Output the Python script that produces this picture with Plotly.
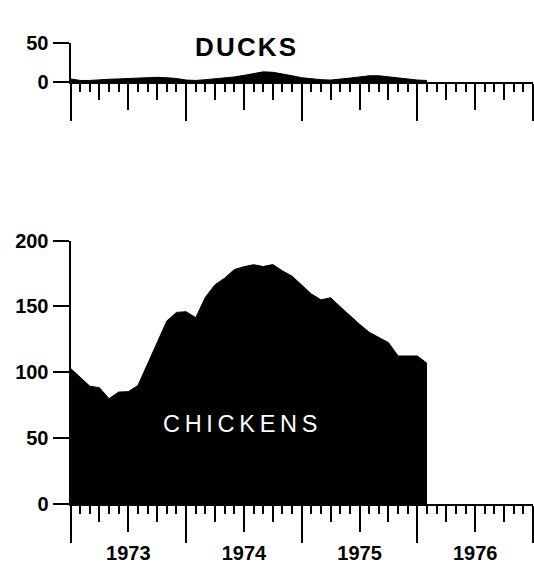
import plotly.graph_objects as go

# months since January 1973
months = list(range(38))
chickens = [103, 96, 89.5, 88.3, 80, 85, 85.3, 90, 106, 122, 139, 145.5, 146, 141.5,
            157, 166.5, 171.5, 178, 180.2, 181.7, 180.3, 181.8, 177, 173, 166.5, 159.5,
            155, 156.6, 149.7, 143, 136.5, 130.4, 126.4, 122.5, 112.4, 112.4, 112.4, 106.8]
ducks = [4, 2, 2, 3, 3.5, 4, 4.5, 5.5, 6, 6, 5.5, 4.5, 2.5, 2, 3, 4, 5, 6.5, 8.5, 11,
         13, 12.5, 10.5, 8, 5.5, 4, 3, 2.5, 3.5, 5, 6.5, 8, 8, 6.5, 5, 3.5, 2.5, 2]

year_ticks = [0, 12, 24, 36, 48]
mid_year_ticks = [6, 18, 30, 42]
year_labels = ["1973", "1974", "1975", "1976"]
chick_ticks = [0, 50, 100, 150, 200]
duck_ticks = [0, 50]

W, H = 534, 567
FONT = "Liberation Sans"
xdom = [70.5 / W, 533 / W]

fig = go.Figure()
fig.add_trace(go.Scatter(x=months, y=chickens, mode="lines", fill="tozeroy",
                         fillcolor="black", line=dict(color="black", width=1),
                         xaxis="x", yaxis="y", hoverinfo="skip"))
fig.add_trace(go.Scatter(x=months, y=ducks, mode="lines", fill="tozeroy",
                         fillcolor="black", line=dict(color="black", width=1),
                         xaxis="x2", yaxis="y2", hoverinfo="skip"))
# invisible carriers so the overlay tick axes are drawn
fig.add_trace(go.Scatter(x=months, y=chickens, mode="lines", opacity=0,
                         line=dict(width=0), xaxis="x3", yaxis="y", hoverinfo="skip"))
fig.add_trace(go.Scatter(x=months, y=ducks, mode="lines", opacity=0,
                         line=dict(width=0), xaxis="x4", yaxis="y2", hoverinfo="skip"))


def year_axis(anchor):
    return dict(domain=xdom, range=[0, 48], anchor=anchor, tickmode="array",
                tickvals=year_ticks, ticks="outside", ticklen=37, tickwidth=2,
                tickcolor="black", showticklabels=False, showline=True, linewidth=2,
                linecolor="black", showgrid=False, zeroline=False, automargin=False,
                minor=dict(tickmode="linear", tick0=0, dtick=1, ticks="outside",
                           ticklen=8, tickwidth=1.5, tickcolor="black", showgrid=False))


def mid_axis(over, anchor, labels):
    d = dict(overlaying=over, anchor=anchor, side="bottom", range=[0, 48],
             tickmode="array", tickvals=mid_year_ticks,
             showticklabels=labels, ticks="outside", ticklen=27, tickwidth=2,
             tickcolor="black", showline=False, showgrid=False, zeroline=False,
             automargin=False, ticklabelstandoff=4,
             tickfont=dict(family=FONT, size=20, color="black", weight="bold"),
             minor=dict(tickmode="linear", tick0=3, dtick=6, ticks="outside",
                        ticklen=17, tickwidth=1.5, tickcolor="black", showgrid=False))
    if labels:
        d["ticktext"] = year_labels
    return d


def val_axis(domain, rng, tickvals, anchor):
    return dict(domain=domain, range=rng, anchor=anchor, tickmode="array",
                tickvals=tickvals, ticks="outside", ticklen=16, tickwidth=2,
                tickcolor="black", showline=True, linewidth=2, linecolor="black",
                showgrid=False, zeroline=False, automargin=False,
                tickfont=dict(family=FONT, size=20, color="black", weight="bold"))


fig.update_layout(
    width=W, height=H, template="none",
    margin=dict(l=0, r=0, t=0, b=0),
    paper_bgcolor="white", plot_bgcolor="white", showlegend=False,
    xaxis=year_axis("y"),
    xaxis3=mid_axis("x", "y", True),
    xaxis2=year_axis("y2"),
    xaxis4=mid_axis("x2", "y2", False),
    yaxis=val_axis([(H - 504) / H, (H - 240.6) / H], [0, 200], chick_ticks, "x"),
    yaxis2=val_axis([(H - 82) / H, (H - 43) / H], [0, 50], duck_ticks, "x2"),
    annotations=[
        dict(text="C\u2009H\u2009I\u2009C\u2009K\u2009E\u2009N\u2009S", x=17.6, y=61,
             xref="x", yref="y", showarrow=False,
             font=dict(family=FONT, size=23.5, color="white")),
        dict(text="D\u200aU\u200aC\u200aK\u200aS", x=18.2, y=44.4, xref="x2", yref="y2",
             showarrow=False,
             font=dict(family=FONT, size=26, color="black", weight="bold")),
    ],
)

fig.write_html("out.html", config={"displayModeBar": False},
               post_script="document.body.style.margin='0';")
